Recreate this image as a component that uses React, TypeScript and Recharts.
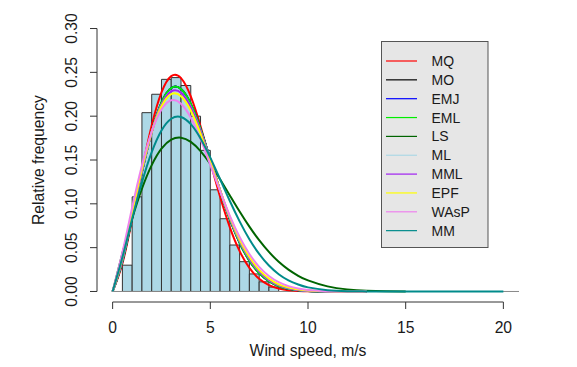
import {
  ComposedChart,
  Line,
  XAxis,
  YAxis,
  ReferenceArea,
  ReferenceLine,
} from "recharts";

const FONT = '"Liberation Sans", Arial, sans-serif';

// histogram: 0.5 m/s bins
const binStarts = [0.5, 1, 1.5, 2, 2.5, 3, 3.5, 4, 4.5, 5, 5.5, 6, 6.5, 7, 7.5, 8];
const binFreq = [
  0.03, 0.108, 0.204, 0.225, 0.242, 0.244, 0.235, 0.2, 0.161, 0.116, 0.083,
  0.053, 0.034, 0.02, 0.011, 0.005,
];
const binWidth = 0.5;

const xTicks = [0, 5, 10, 15, 20];
const yTicks = [0, 0.05, 0.1, 0.15, 0.2, 0.25, 0.3];

// fitted density curves, read at these wind speeds
const speeds = [
  0, 0.5, 1, 1.5, 2, 2.5, 3, 3.5, 4, 4.5, 5, 5.5, 6, 6.5, 7, 7.5, 8, 8.5, 9,
  9.5, 10, 11, 12, 13, 14, 15, 16, 17, 18, 19, 20,
];
const _ = null;

const mqVals = [
  0, 0.0318, 0.0826, 0.1384, 0.1894, 0.2271, 0.2457, 0.2434, 0.2225, 0.1884,
  0.148, 0.108, 0.0732, 0.046, 0.0269, 0.0145, 0.0073, 0.0034, 0.0014, 0.0006,
  0.0002, 0, 0, 0, _, _, _, _, _, _, _,
];
const moVals = [
  0, 0.0346, 0.0843, 0.1362, 0.1821, 0.2155, 0.2321, 0.231, 0.214, 0.1854,
  0.1507, 0.115, 0.0825, 0.0556, 0.0352, 0.021, 0.0117, 0.0062, 0.003, 0.0014,
  0.0006, 0.0001, 0, 0, _, _, _, _, _, _, _,
];
const emjVals = [
  0, 0.0346, 0.0843, 0.1362, 0.1821, 0.2155, 0.2321, 0.231, 0.214, 0.1854,
  0.1507, 0.115, 0.0825, 0.0556, 0.0352, 0.021, 0.0117, 0.0062, 0.003, 0.0014,
  0.0006, 0.0001, 0, 0, _, _, _, _, _, _, _,
];
const emlVals = [
  0, 0.0346, 0.0843, 0.1362, 0.1821, 0.2155, 0.2321, 0.231, 0.214, 0.1854,
  0.1507, 0.115, 0.0825, 0.0556, 0.0352, 0.021, 0.0117, 0.0062, 0.003, 0.0014,
  0.0006, 0.0001, 0, 0, _, _, _, _, _, _, _,
];
const lsVals = [
  0, 0.0435, 0.0831, 0.1172, 0.1441, 0.1629, 0.1732, 0.1755, 0.1707, 0.1602,
  0.1454, 0.128, 0.1096, 0.0912, 0.074, 0.0585, 0.0451, 0.0339, 0.025, 0.0179,
  0.0126, 0.0058, 0.0024, 0.0009, 0.0003, 0.0001, _, _, _, _, _,
];
const mlVals = [
  0, 0.0365, 0.0865, 0.1374, 0.1816, 0.213, 0.2283, 0.2267, 0.2102, 0.1829,
  0.1498, 0.1156, 0.0841, 0.0578, 0.0375, 0.023, 0.0133, 0.0072, 0.0037,
  0.0018, 0.0008, 0.0001, 0, 0, _, _, _, _, _, _, _,
];
const mmlVals = [
  0, 0.0365, 0.0865, 0.1374, 0.1816, 0.213, 0.2283, 0.2267, 0.2102, 0.1829,
  0.1498, 0.1156, 0.0841, 0.0578, 0.0375, 0.023, 0.0133, 0.0072, 0.0037,
  0.0018, 0.0008, 0.0001, 0, 0, _, _, _, _, _, _, _,
];
const epfVals = [
  0, 0.0388, 0.0892, 0.1393, 0.1818, 0.2113, 0.2251, 0.2228, 0.2065, 0.1801,
  0.1483, 0.1154, 0.085, 0.0593, 0.0393, 0.0246, 0.0146, 0.0082, 0.0044,
  0.0022, 0.0011, 0.0002, 0, 0, _, _, _, _, _, _, _,
];
const waspVals = [
  0, 0.0445, 0.0958, 0.1437, 0.1823, 0.2076, 0.2181, 0.2141, 0.1981, 0.1735,
  0.1444, 0.1144, 0.0863, 0.0622, 0.0428, 0.0281, 0.0177, 0.0106, 0.0061,
  0.0033, 0.0018, 0.0004, 0.0001, 0, _, _, _, _, _, _, _,
];
const mmVals = [
  0, 0.039, 0.083, 0.1244, 0.1589, 0.1837, 0.1971, 0.1991, 0.1909, 0.1745,
  0.1527, 0.1281, 0.1032, 0.08, 0.0596, 0.0428, 0.0296, 0.0197, 0.0127,
  0.0079, 0.0047, 0.0015, 0.0004, 0.0001, 0, 0, 0, 0, 0, 0, 0,
];

const methods = ["MQ", "MO", "EMJ", "EML", "LS", "ML", "MML", "EPF", "WAsP", "MM"];
const colors = [
  "#ff0000",
  "#000000",
  "#0000ff",
  "#00ee00",
  "#006400",
  "#add8e6",
  "#a020f0",
  "#ffff00",
  "#ee82ee",
  "#008b8b",
];
const seriesVals = [
  mqVals,
  moVals,
  emjVals,
  emlVals,
  lsVals,
  mlVals,
  mmlVals,
  epfVals,
  waspVals,
  mmVals,
];

const rows = speeds.map((x, i) => {
  const row: Record<string, number | null> = { x };
  methods.forEach((m, j) => {
    row[m] = seriesVals[j][i];
  });
  return row;
});

function XTick({ x, payload }: any) {
  return (
    <text
      x={x}
      y={333}
      textAnchor="middle"
      fill="#1a1a1a"
      fontSize={15.7}
      fontFamily={FONT}
    >
      {payload.value}
    </text>
  );
}

function YTick({ y, payload }: any) {
  const tx = 77;
  return (
    <text
      x={tx}
      y={y}
      transform={`rotate(-90 ${tx} ${y})`}
      textAnchor="middle"
      fill="#1a1a1a"
      fontSize={15.7}
      fontFamily={FONT}
    >
      {Number(payload.value).toFixed(2)}
    </text>
  );
}

function Overlay() {
  const rowY = (i: number) => 61 + i * 18.85;
  return (
    <svg
      width={577}
      height={367}
      style={{ position: "absolute", left: 0, top: 0, pointerEvents: "none" }}
      fontFamily={FONT}
    >
      <text x={308} y={356} textAnchor="middle" fontSize={15.7} fill="#1a1a1a">
        Wind speed, m/s
      </text>
      <text
        x={44}
        y={160}
        transform="rotate(-90 44 160)"
        textAnchor="middle"
        fontSize={15.7}
        fill="#1a1a1a"
      >
        Relative frequency
      </text>
      <rect x={381.5} y={41.5} width={106.5} height={206} fill="#e6e6e6" stroke="#555" />
      {methods.map((m, i) => (
        <g key={m}>
          <line x1={386} x2={417} y1={rowY(i)} y2={rowY(i)} stroke={colors[i]} strokeWidth={1.2} />
          <text x={431.5} y={rowY(i) + 5} fontSize={14} fill="#1a1a1a">
            {m}
          </text>
        </g>
      ))}
    </svg>
  );
}

export default function App() {
  return (
    <div style={{ position: "absolute", left: 0, top: 0, width: 577, height: 367, background: "#fff" }}>
      <ComposedChart
        width={577}
        height={367}
        data={rows}
        margin={{ top: 18, right: 58, bottom: 0, left: 0 }}
      >
        <XAxis
          type="number"
          dataKey="x"
          domain={[-0.8, 20.8]}
          ticks={xTicks}
          allowDataOverflow
          axisLine={false}
          tickLine={{ stroke: "#333" }}
          tickSize={7}
          height={65}
          tick={<XTick />}
        />
        <YAxis
          type="number"
          domain={[-0.012, 0.312]}
          ticks={yTicks}
          allowDataOverflow
          axisLine={false}
          tickLine={{ stroke: "#333" }}
          tickSize={7}
          width={97}
          tick={<YTick />}
        />
        {binStarts.map((lo, i) => (
          <ReferenceArea
            key={lo}
            x1={lo}
            x2={lo + binWidth}
            y1={0}
            y2={binFreq[i]}
            fill="#add8e6"
            fillOpacity={1}
            stroke="#333"
            strokeWidth={1}
            ifOverflow="visible"
          />
        ))}
        <ReferenceLine
          segment={[
            { x: 0, y: 0 },
            { x: 20.8, y: 0 },
          ]}
          stroke="#888"
          ifOverflow="visible"
        />
        <ReferenceLine
          segment={[
            { x: 0, y: -0.012 },
            { x: 20, y: -0.012 },
          ]}
          stroke="#333"
          ifOverflow="visible"
        />
        <ReferenceLine
          segment={[
            { x: -0.8, y: 0 },
            { x: -0.8, y: 0.3 },
          ]}
          stroke="#333"
          ifOverflow="visible"
        />
        {methods.map((m, i) => (
          <Line
            key={m}
            dataKey={m}
            type="natural"
            stroke={colors[i]}
            strokeWidth={2}
            dot={false}
            activeDot={false}
            connectNulls={false}
            isAnimationActive={false}
          />
        ))}
      </ComposedChart>
      <Overlay />
    </div>
  );
}
